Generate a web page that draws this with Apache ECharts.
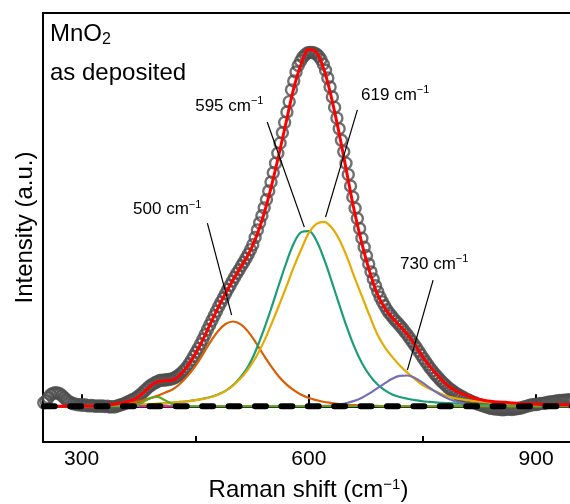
<!DOCTYPE html>
<html><head><meta charset="utf-8">
<script src="https://cdn.jsdelivr.net/npm/echarts@6/dist/echarts.min.js"></script>
<style>html,body{margin:0;padding:0;background:#fff}#c{width:570px;height:504px}</style>
</head><body><div id="c"></div>
<script>
const FONT = 'Liberation Sans, Arial, Helvetica, sans-serif';

// x axis
const xMin = 249, xMax = 950;
const xTickValues = [300, 600, 900];
const xMinorTickValues = [450, 750];

// measured spectrum (grey circles), sampled every 3 cm-1 from 250
const dataStart = 250, dataStep = 3;
const measured = [
  0.010,0.015,0.024,0.032,0.036,0.038,0.037,0.035,0.030,0.024,
  0.018,0.013,0.010,0.007,0.006,0.004,0.004,0.003,0.004,0.002,
  0.001,0.002,0.001,0.000,0.001,0.000,0.001,-0.001,0.000,-0.002,
  -0.001,-0.002,0.000,0.002,0.004,0.006,0.009,0.012,0.015,0.018,
  0.021,0.025,0.030,0.035,0.041,0.047,0.053,0.058,0.062,0.066,
  0.069,0.072,0.073,0.073,0.074,0.075,0.076,0.078,0.081,0.085,
  0.090,0.096,0.102,0.110,0.119,0.129,0.140,0.151,0.162,0.174,
  0.187,0.200,0.214,0.227,0.240,0.253,0.266,0.279,0.291,0.303,
  0.315,0.327,0.338,0.350,0.361,0.372,0.382,0.393,0.403,0.414,
  0.425,0.438,0.452,0.472,0.493,0.513,0.533,0.555,0.578,0.602,
  0.627,0.653,0.680,0.708,0.736,0.765,0.794,0.823,0.852,0.885,
  0.910,0.935,0.953,0.966,0.976,0.983,0.988,0.990,0.990,0.988,
  0.985,0.979,0.970,0.957,0.940,0.918,0.893,0.865,0.836,0.806,
  0.776,0.744,0.712,0.680,0.648,0.616,0.585,0.554,0.525,0.497,
  0.470,0.445,0.421,0.398,0.376,0.356,0.337,0.320,0.305,0.292,
  0.281,0.270,0.261,0.253,0.245,0.238,0.231,0.224,0.216,0.208,
  0.200,0.191,0.182,0.173,0.164,0.154,0.144,0.134,0.125,0.116,
  0.107,0.099,0.091,0.084,0.077,0.070,0.064,0.058,0.052,0.047,
  0.043,0.038,0.034,0.030,0.027,0.023,0.020,0.017,0.014,0.011,
  0.009,0.006,0.004,0.002,0.000,-0.002,-0.004,-0.006,-0.007,-0.008,
  -0.008,-0.009,-0.010,-0.009,-0.008,-0.008,-0.009,-0.008,-0.007,-0.006,
  -0.005,-0.003,-0.001,0.001,0.003,0.004,0.005,0.005,0.007,0.008,
  0.008,0.010,0.011,0.012,0.013,0.014,0.015,0.016,0.016,0.017,
  0.017,0.018,0.018,0.018
];

// fitted curves, sampled every 10 cm-1 from 250 to 950
const compStart = 250, compStep = 10;
const fitCurve = [
  0,0,0,0,0,0,0.001,0.001,0.003,0.005,
  0.008,0.013,0.020,0.035,0.055,0.069,0.071,0.073,0.088,0.113,
  0.146,0.186,0.231,0.275,0.316,0.354,0.389,0.424,0.471,0.533,
  0.611,0.700,0.795,0.889,0.958,0.998,0.990,0.941,0.861,0.763,
  0.654,0.546,0.455,0.378,0.316,0.275,0.248,0.225,0.201,0.172,
  0.139,0.111,0.086,0.064,0.048,0.037,0.029,0.022,0.017,0.014,
  0.012,0.011,0.009,0.008,0.007,0.006,0.005,0.005,0.004,0.004,
  0.004
];
const peak500 = [
  0,0,0,0,0,0,0,0,0.001,0.002,
  0.004,0.007,0.011,0.016,0.022,0.029,0.038,0.047,0.063,0.085,
  0.112,0.145,0.180,0.210,0.230,0.237,0.229,0.208,0.178,0.144,
  0.112,0.084,0.062,0.045,0.032,0.023,0.017,0.012,0.009,0.006,
  0.004,0.003,0.002,0.001,0.001,0,0,0,0,0,
  0,0,0,0,0,0,0,0,0,0,
  0,0,0,0,0,0,0,0,0,0,
  0
];
const peak595 = [
  0,0,0,0,0,0,0,0,0.001,0.001,
  0.002,0.003,0.003,0.004,0.005,0.007,0.008,0.010,0.012,0.014,
  0.017,0.021,0.026,0.033,0.043,0.059,0.082,0.112,0.156,0.211,
  0.272,0.337,0.400,0.455,0.487,0.490,0.463,0.412,0.350,0.285,
  0.222,0.166,0.121,0.087,0.062,0.045,0.033,0.026,0.021,0.017,
  0.014,0.012,0.010,0.009,0.008,0.007,0.006,0.005,0.004,0.004,
  0.003,0.003,0.002,0.002,0.002,0.001,0.001,0.001,0.001,0.001,
  0.001
];
const peak619 = [
  0,0,0,0,0,0,0.001,0.001,0.001,0.002,
  0.002,0.003,0.004,0.005,0.006,0.007,0.008,0.010,0.012,0.014,
  0.017,0.020,0.025,0.032,0.043,0.058,0.078,0.104,0.137,0.178,
  0.227,0.279,0.333,0.389,0.439,0.485,0.510,0.516,0.500,0.467,
  0.419,0.362,0.308,0.254,0.203,0.166,0.138,0.114,0.094,0.076,
  0.059,0.048,0.039,0.030,0.024,0.020,0.017,0.014,0.012,0.010,
  0.009,0.008,0.007,0.006,0.005,0.005,0.004,0.004,0.003,0.003,
  0.003
];
const peak730 = [
  0,0,0,0,0,0,0,0,0,0,
  0,0,0,0,0,0,0,0,0,0,
  0,0,0,0,0,0,0,0,0,0,
  0,0,0,0,0,0,0,0.001,0.002,0.005,
  0.009,0.015,0.024,0.036,0.050,0.064,0.077,0.085,0.086,0.079,
  0.066,0.051,0.037,0.025,0.016,0.010,0.006,0.003,0.001,0,
  0,0,0,0,0,0,0,0,0,0,
  0
];
const peak400 = [
  0,0,0,0,0,0,0,0,0,0,
  0,0,0.002,0.010,0.022,0.026,0.017,0.006,0.001,0,
  0,0,0,0,0,0,0,0,0,0,
  0,0,0,0,0,0,0,0,0,0,
  0,0,0,0,0,0,0,0,0,0,
  0,0,0,0,0,0,0,0,0,0,
  0,0,0,0,0,0,0,0,0,0,
  0
];
const minorX = [376, 420];
const minorY = [0, 0];
const baselineX = [250, 950];
const baselineY = [0, 0];

// annotations (data coordinates)
const peakLabels = ['500', '595', '619', '730'];
const labelAnchor = [[413, 0.55], [495, 0.84], [714, 0.871], [765.5, 0.398]];
const leaderFrom = [[466, 0.512], [545, 0.795], [664, 0.829], [764, 0.353]];
const leaderTo = [[498, 0.255], [594, 0.501], [622, 0.529], [730, 0.101]];

const pairs = (arr, start, step) => arr.map((v, i) => [start + i * step, v]);
const zip = (xs, ys) => xs.map((x, i) => [x, ys[i]]);

const chart = echarts.init(document.getElementById('c'), null, {renderer: 'canvas'});

function comp(name, arr, color, width) {
  return {
    name, type: 'line', data: pairs(arr, compStart, compStep),
    showSymbol: false, smooth: 0.35, animation: false,
    lineStyle: {color, width}, itemStyle: {color}
  };
}

chart.setOption({
  animation: false,
  grid: {left: 43, top: 13, width: 531, height: 429, show: true, borderColor: '#000', borderWidth: 2,
         containLabel: false, outerBoundsMode: 'none'},
  xAxis: [{
    type: 'value', min: xMin, max: xMax, position: 'bottom',
    name: '{n|Raman shift (cm}{s|−1}{n|)}', nameLocation: 'middle', nameGap: 35,
    nameTextStyle: {rich: {
      n: {fontSize: 24, fontFamily: FONT, color: '#000', lineHeight: 26, verticalAlign: 'middle'},
      s: {fontSize: 15, fontFamily: FONT, color: '#000', lineHeight: 10, verticalAlign: 'top'}
    }},
    axisLine: {show: true, lineStyle: {color: '#000', width: 2}},
    axisTick: {show: true, inside: true, length: 12, lineStyle: {color: '#000', width: 2}, customValues: xTickValues},
    axisLabel: {show: true, margin: 7, fontSize: 21, fontFamily: FONT, color: '#000', customValues: xTickValues},
    splitLine: {show: false}
  }, {
    type: 'value', min: xMin, max: xMax, position: 'bottom',
    axisLine: {show: false},
    axisTick: {show: true, inside: true, length: 6, lineStyle: {color: '#000', width: 2}, customValues: xMinorTickValues},
    axisLabel: {show: false},
    splitLine: {show: false}
  }],
  yAxis: {
    type: 'value', min: -0.1, max: 1.1,
    name: 'Intensity (a.u.)', nameLocation: 'middle', nameGap: 6, nameRotate: 90,
    nameTextStyle: {fontSize: 24, fontFamily: FONT, color: '#000'},
    axisLine: {show: true, lineStyle: {color: '#000', width: 2}},
    axisTick: {show: false}, axisLabel: {show: false}, splitLine: {show: false}
  },
  series: [
    {name: 'data', type: 'scatter', data: pairs(measured, dataStart, dataStep),
     symbol: 'circle', symbolSize: 11,
     itemStyle: {color: 'rgba(255,255,255,0)', borderColor: '#4d4d4d', borderWidth: 2.4}},
    comp('500', peak500, '#d95f02', 2.2),
    comp('595', peak595, '#1b9e77', 2.2),
    comp('619', peak619, '#e6ab02', 2.2),
    comp('730', peak730, '#7570b3', 2.2),
    {name: 'minor', type: 'line', data: zip(minorX, minorY), showSymbol: false,
     lineStyle: {color: '#e7298a', width: 2.2}},
    comp('400', peak400, '#66a61e', 2.2),
    comp('fit', fitCurve, '#ff0000', 3),
    {name: 'baseline', type: 'line', data: zip(baselineX, baselineY), showSymbol: false,
     lineStyle: {color: '#000', width: 6, type: [11, 15.4], cap: 'round'}}
  ]
});

const px = p => chart.convertToPixel({gridIndex: 0}, p);
const elements = [];
peakLabels.forEach((t, i) => {
  const a = px(labelAnchor[i]), f = px(leaderFrom[i]), e = px(leaderTo[i]);
  elements.push({type: 'line', shape: {x1: f[0], y1: f[1], x2: e[0], y2: e[1]},
    style: {stroke: '#000', lineWidth: 1.2}, z: 10});
  elements.push({type: 'text', x: a[0], y: a[1], z: 10,
    style: {text: '{n|' + t + ' cm}{s|−1}', align: 'center', verticalAlign: 'middle', fill: '#000',
      rich: {
        n: {fontSize: 17, fontFamily: FONT, fill: '#000', lineHeight: 20, verticalAlign: 'middle'},
        s: {fontSize: 11, fontFamily: FONT, fill: '#000', lineHeight: 8, verticalAlign: 'top'}
      }}});
});
elements.push({type: 'text', x: 50, y: 34, z: 10,
  style: {text: '{a|MnO}{b|2}', align: 'left', verticalAlign: 'middle', fill: '#000',
    rich: {
      a: {fontSize: 24, fontFamily: FONT, fill: '#000', lineHeight: 28, verticalAlign: 'middle'},
      b: {fontSize: 16, fontFamily: FONT, fill: '#000', lineHeight: 9, verticalAlign: 'bottom'}
    }}});
elements.push({type: 'text', x: 50, y: 73, z: 10,
  style: {text: 'as deposited', align: 'left', verticalAlign: 'middle', fill: '#000',
    fontSize: 24, fontFamily: FONT}});
chart.setOption({graphic: {elements}});
</script></body></html>
